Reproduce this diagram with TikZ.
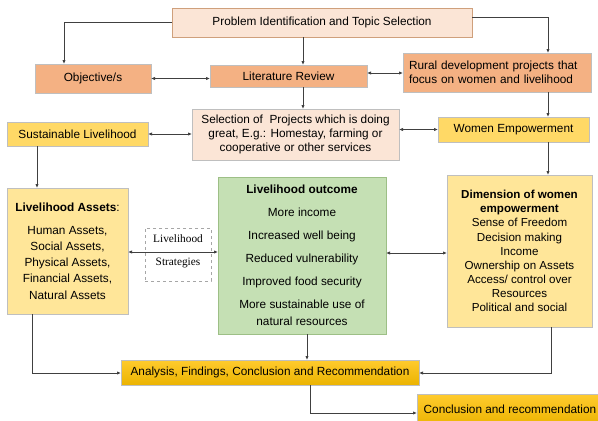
\documentclass[tikz,border=0pt]{standalone}
\usepackage{fontspec}
\setmainfont{Liberation Sans}
\newfontfamily\seriffont{Liberation Serif}
\usetikzlibrary{arrows.meta}
\definecolor{peach}{HTML}{FBE5D6}
\definecolor{peachline}{HTML}{CFA07C}
\definecolor{orangebox}{HTML}{F4B183}
\definecolor{yellowbox}{HTML}{FFD966}
\definecolor{paleyellow}{HTML}{FFE699}
\definecolor{greenbox}{HTML}{C5E0B4}
\definecolor{greenline}{HTML}{9DBF86}
\definecolor{grayline}{HTML}{BFBFBF}
\definecolor{conn}{HTML}{404040}
\definecolor{goldtop}{HTML}{FFCB2E}
\definecolor{goldbot}{HTML}{EBB300}
\begin{document}
\begin{tikzpicture}[x=1pt,y=-1pt,
  base/.style={rectangle, draw=grayline, line width=0.8pt, inner sep=2pt, outer sep=0pt,
    font=\fontsize{11.8}{14}\selectfont, text=black, align=center},
  peachbox/.style={base, fill=peach},
  orbox/.style={base, fill=orangebox},
  yebox/.style={base, fill=yellowbox},
  pybox/.style={base, fill=paleyellow},
  grbox/.style={base, fill=greenbox, draw=greenline},
  goldbox/.style={base, top color=goldtop, bottom color=goldbot},
  stratbox/.style={rectangle, draw=gray!70, dashed, line width=0.6pt, fill=white, inner sep=0pt},
  strattext/.style={font=\seriffont\fontsize{11.3}{12}\selectfont, inner sep=0pt},
  conline/.style={draw=conn, line width=0.8pt, -{Latex[length=4pt,width=3.4pt]}},
  bothline/.style={draw=conn, line width=0.8pt, {Latex[length=4pt,width=3.4pt]}-{Latex[length=4pt,width=3.4pt]}}
]
\useasboundingbox (0,0) rectangle (598,421);

% boxes
\node[peachbox, draw=peachline, minimum width=300pt, minimum height=29pt] (prob) at (322,22.5) {Problem Identification and Topic Selection};
\node[orbox, minimum width=116pt, minimum height=29pt] (obj) at (93,78.5) {Objective/s};
\node[orbox, minimum width=157pt, minimum height=22pt] (lit) at (288.5,76) {Literature Review};
\node[orbox, minimum width=184pt, minimum height=39pt, text width=176pt, inner xsep=6pt, align=left] (rural) at (497,72.5) {Rural development projects that\\focus on women and livelihood};
\node[yebox, minimum width=141pt, minimum height=24pt] (sust) at (77.5,134) {Sustainable Livelihood};
\node[peachbox, minimum width=207pt, minimum height=51pt] (sel) at (295.5,134.5) {Selection of\ \ Projects which is doing\\great, E.g.: Homestay, farming or\\cooperative or other services};
\node[yebox, minimum width=151pt, minimum height=25pt] (women) at (513.5,129.5) {Women Empowerment};
\node[pybox, minimum width=121pt, minimum height=126pt, font=\fontsize{11.8}{16.3}\selectfont] (assets) at (67.5,251) {\textbf{Livelihood Assets}:\\[6.5pt]Human Assets,\\Social Assets,\\Physical Assets,\\Financial Assets,\\Natural Assets};
\node[stratbox, minimum width=66pt, minimum height=53pt] (strat) at (178,254.5) {};
\node[strattext] (stratA) at (178,239) {Livelihood};
\node[strattext] (stratB) at (178,263) {Strategies};
\node[grbox, minimum width=168pt, minimum height=157pt, font=\fontsize{11.8}{17}\selectfont] (outcome) at (302,255.5) {\textbf{Livelihood outcome}\\[6pt]More income\\[6pt]Increased well being\\[6pt]Reduced vulnerability\\[6pt]Improved food security\\[6pt]More sustainable use of\\natural resources};
\node[pybox, minimum width=145pt, minimum height=152pt, font=\fontsize{11.6}{14.1}\selectfont] (dim) at (519.5,251) {\textbf{Dimension of women}\\\textbf{empowerment}\\Sense of Freedom\\Decision making\\Income\\Ownership on Assets\\Access/ control over\\Resources\\Political and social};
\node[goldbox, minimum width=298pt, minimum height=25pt] (anal) at (270,372.5) {Analysis, Findings, Conclusion and Recommendation};
\node[goldbox, minimum width=185pt, minimum height=32pt, anchor=north west] (concl) at (417,394) {};
\node[font=\fontsize{11.8}{14}\selectfont, anchor=west, inner sep=0pt] (conclt) at (423.5,409) {Conclusion and recommendation};

% connectors
\draw[conline] (prob.west) -| (obj.north -| 64,0);
\draw[conline] (prob.south -| 303,0) -- (lit.north -| 303,0);
\draw[conline] (lit.south -| 303,0) -- (sel.north -| 303,0);
\draw[conline] (prob.east |- 0,17) -| (rural.north -| 548,0);
\draw[bothline] (obj.east) -- (lit.west |- obj.east);
\draw[bothline] (lit.east |- 0,73) -- (rural.west |- 0,73);
\draw[conline] (rural.south -| 548,0) -- (women.north -| 548,0);
\draw[bothline] (sust.east) -- (sel.west |- sust.east);
\draw[bothline] (sel.east |- women.west) -- (women.west);
\draw[conline] (sust.south -| 37,0) -- (assets.north -| 37,0);
\draw[conline] (women.south -| 548,0) -- (dim.north -| 548,0);
\draw[bothline] (assets.east |- 0,252) -- (outcome.west |- 0,252);
\draw[bothline] (outcome.east |- 0,253) -- (dim.west |- 0,253);
\draw[conline] (assets.south -| 32,0) |- (anal.west |- 0,373);
\draw[conline] (outcome.south -| 307,0) -- (anal.north -| 307,0);
\draw[conline] (dim.south -| 551,0) |- (anal.east |- 0,373);
\draw[conline] (anal.south -| 310,0) |- (concl.west |- 0,413);
\end{tikzpicture}
\end{document}
